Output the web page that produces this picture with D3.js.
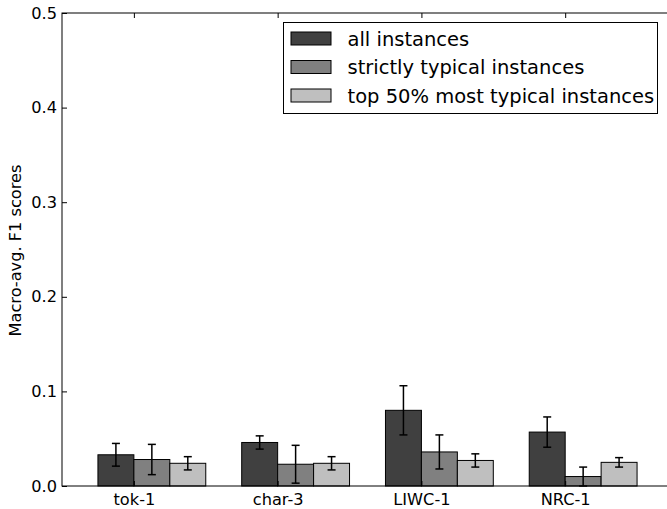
<!DOCTYPE html>
<html>
<head>
<meta charset="utf-8">
<script src="https://cdn.jsdelivr.net/npm/d3@7"></script>
<style>
  html, body { margin: 0; padding: 0; background: #fff; }
  svg { display: block; font-family: "DejaVu Sans", sans-serif; }
</style>
</head>
<body>
<svg id="chart" width="667" height="509"></svg>
<script>
// Feature sets on the x axis
const categories = ["tok-1", "char-3", "LIWC-1", "NRC-1"];
// Series names
const seriesNames = ["all instances", "strictly typical instances", "top 50% most typical instances"];
// Mean macro-averaged F1 per series (one value per feature set)
const allInstances      = [0.033, 0.046, 0.080, 0.057];
const strictlyTypical   = [0.028, 0.023, 0.036, 0.010];
const top50Typical      = [0.024, 0.024, 0.027, 0.025];
// Standard deviations (error bar half-lengths)
const allInstancesErr    = [0.012, 0.007, 0.026, 0.016];
const strictlyTypicalErr = [0.016, 0.020, 0.018, 0.010];
const top50TypicalErr    = [0.007, 0.007, 0.007, 0.005];
const yTicks = [0.0, 0.1, 0.2, 0.3, 0.4, 0.5];
const fills = ["#404040", "#808080", "#bfbfbf"];

const values = [allInstances, strictlyTypical, top50Typical];
const errors = [allInstancesErr, strictlyTypicalErr, top50TypicalErr];
const barWidth = 0.25;

const svg = d3.select("#chart");
const margin = { left: 62, top: 13, bottom: 23 };
const plotRight = 673;
const H = 509;
const tickFont = 16.2;

const x = d3.scaleLinear().domain([-0.25, 4.0]).range([margin.left, plotRight]);
const y = d3.scaleLinear().domain([0, 0.5]).range([H - margin.bottom, margin.top]);

const g = svg.append("g");

// Bars with error bars
values.forEach((vals, s) => {
  const sg = g.append("g");
  sg.selectAll("rect").data(vals).join("rect")
    .attr("x", (d, i) => x(i + s * barWidth))
    .attr("y", d => y(d))
    .attr("width", x(barWidth) - x(0))
    .attr("height", d => y(0) - y(d))
    .attr("fill", fills[s])
    .attr("stroke", "#000")
    .attr("stroke-width", 1);

  const eg = sg.selectAll("g.err").data(vals.map((v, i) => ({ v, e: errors[s][i], i })))
    .join("g").attr("class", "err")
    .attr("stroke", "#000").attr("stroke-width", 1.5);
  const cx = d => x(d.i + s * barWidth + barWidth / 2);
  eg.append("line")
    .attr("x1", cx).attr("x2", cx)
    .attr("y1", d => y(d.v + d.e)).attr("y2", d => y(Math.max(0, d.v - d.e)));
  [1, -1].forEach(sign => {
    eg.append("line")
      .attr("x1", d => cx(d) - 4).attr("x2", d => cx(d) + 4)
      .attr("y1", d => y(Math.max(0, d.v + sign * d.e)))
      .attr("y2", d => y(Math.max(0, d.v + sign * d.e)));
  });
});

// Frame
g.append("rect")
  .attr("x", margin.left).attr("y", margin.top)
  .attr("width", plotRight - margin.left)
  .attr("height", y(0) - margin.top)
  .attr("fill", "none").attr("stroke", "#000").attr("stroke-width", 1);

// Y axis (ticks inside)
const yAxis = d3.axisLeft(y).tickValues(yTicks).tickFormat(d3.format(".1f"))
  .tickSizeInner(-5).tickSizeOuter(0).tickPadding(5);
const ya = svg.append("g").attr("transform", `translate(${margin.left},0)`).call(yAxis);
ya.select(".domain").remove();
ya.selectAll("text").attr("font-size", tickFont).attr("fill", "#000")
  .attr("font-family", "DejaVu Sans, sans-serif");

// X axis: ticks at the second bar of each group
const tickPos = categories.map((c, i) => i + barWidth);
const xAxis = d3.axisBottom(x).tickValues(tickPos).tickFormat((d, i) => categories[i])
  .tickSizeInner(-5).tickSizeOuter(0).tickPadding(7);
const xa = svg.append("g").attr("transform", `translate(0,${y(0)})`).call(xAxis);
xa.select(".domain").remove();
xa.selectAll("text").attr("font-size", tickFont).attr("fill", "#000")
  .attr("font-family", "DejaVu Sans, sans-serif");

// Top ticks
const xTop = d3.axisTop(x).tickValues(tickPos).tickFormat("")
  .tickSizeInner(-5).tickSizeOuter(0);
const xt = svg.append("g").attr("transform", `translate(0,${margin.top})`).call(xTop);
xt.select(".domain").remove();

// Y label
svg.append("text")
  .attr("transform", `translate(21,${(margin.top + y(0)) / 2 + 1}) rotate(-90)`)
  .attr("text-anchor", "middle")
  .attr("font-size", tickFont)
  .text("Macro-avg. F1 scores");

// Legend
const lg = svg.append("g").attr("transform", "translate(283.5,22.5)");
lg.append("rect").attr("width", 374).attr("height", 91)
  .attr("fill", "#fff").attr("stroke", "#000").attr("stroke-width", 1);
seriesNames.forEach((name, i) => {
  const cy = 16 + i * 28.5;
  lg.append("rect").attr("x", 7.5).attr("y", cy - 6.5).attr("width", 40).attr("height", 13)
    .attr("fill", fills[i]).attr("stroke", "#000").attr("stroke-width", 1);
  lg.append("text").attr("x", 64).attr("y", cy).attr("dy", "0.36em")
    .attr("font-size", 19.5).text(name);
});
</script>
</body>
</html>
